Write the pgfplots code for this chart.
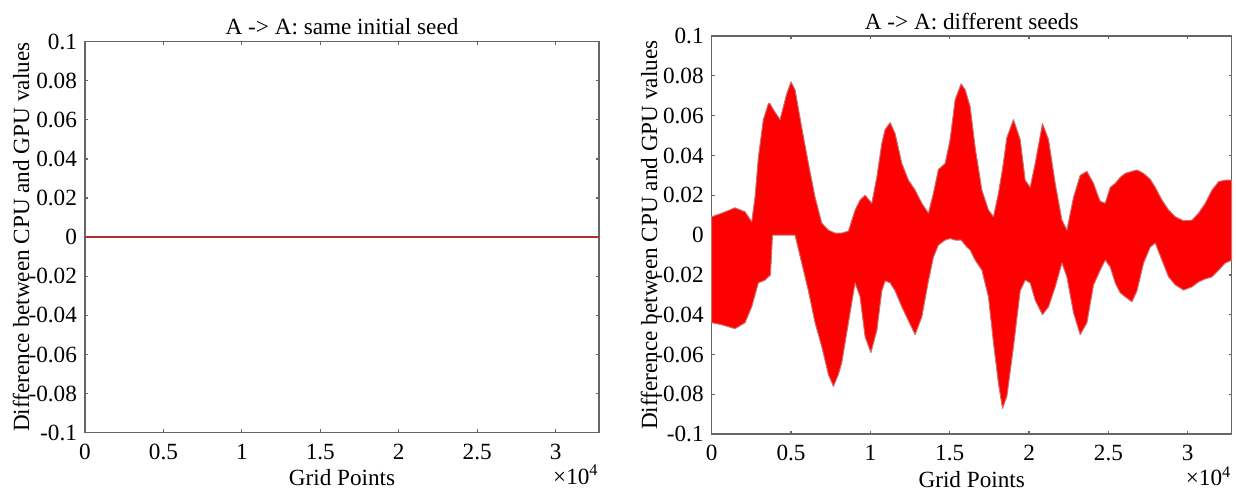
\documentclass[border=0pt]{standalone}
\usepackage{fontspec}
\setmainfont{Liberation Serif}
\usepackage{pgfplots}
\pgfplotsset{compat=1.18}
\usepackage{pgfplotstable}

\newcommand\ff{\fontsize{11.6}{13.9}\selectfont}
\definecolor{lineRed}{RGB}{185,45,45}
\definecolor{edgePink}{RGB}{205,110,110}

\pgfplotsset{mystyle/.style={
  scale only axis,
  clip=false,
  xmin=0, xmax=32768, ymin=-0.1, ymax=0.1,
  xtick={0,5000,10000,15000,20000,25000,30000},
  xticklabels={0,0.5,1,1.5,2,2.5,3},
  ytick={-0.1,-0.08,-0.06,-0.04,-0.02,0,0.02,0.04,0.06,0.08,0.1},
  yticklabels={-0.1,-0.08,-0.06,-0.04,-0.02,0,0.02,0.04,0.06,0.08,0.1},
  scaled ticks=false,
  tick align=inside,
  major tick length=1.6pt,
  axis line style={black!60, line width=0.7pt},
  tick style={black!60, line width=0.6pt},
  every tick label/.append style={font=\ff},
  xticklabel style={yshift=-2pt},
  yticklabel style={xshift=-0.5pt},
  every axis title shift=0pt,
  title style={font=\ff, at={(axis description cs:0.5,1)}, anchor=center, yshift=7.4pt},
  xlabel={Grid Points},
  xlabel style={font=\ff, at={(axis description cs:0.5,0)}, anchor=center, yshift=-22.6pt},
  ylabel={Difference between CPU and GPU values},
  ylabel style={font=\ff, anchor=center},
}}

% band: upper envelope left to right, then lower envelope right to left
\pgfplotstableread{
x y
0 0.0092
628 0.011
1469 0.0137
2100 0.0117
2520 0.0067
2730 0.019
2940 0.039
3255 0.058
3571 0.066
3676 0.066
3886 0.063
4306 0.058
4727 0.071
5000 0.077
5252 0.073
5673 0.054
6093 0.036
6513 0.019
6934 0.006
7354 0.0025
7774 0.001
8196 0.001
8615 0.002
9035 0.0125
9350 0.0176
9665 0.020
10088 0.016
10403 0.029
10718 0.046
10927 0.053
11242 0.0565
11557 0.051
11979 0.036
12396 0.0276
12818 0.0226
13241 0.016
13657 0.011
13972 0.021
14287 0.033
14710 0.036
15025 0.048
15340 0.068
15718 0.076
15971 0.073
16286 0.0645
16601 0.044
17024 0.0226
17440 0.0126
17755 0.0092
18070 0.021
18323 0.033
18600 0.049
19016 0.058
19438 0.048
19754 0.0276
20069 0.024
20384 0.036
20844 0.056
21223 0.048
21645 0.026
22068 0.0075
22383 0.0025
22799 0.019
23221 0.030
23644 0.032
24060 0.026
24375 0.019
24482 0.017
24797 0.016
25113 0.024
25428 0.026
25743 0.029
26058 0.031
26481 0.032
26796 0.0327
27214 0.031
27635 0.028
27950 0.024
28373 0.0176
28789 0.0126
29211 0.0092
29734 0.0072
30264 0.0075
30680 0.011
31103 0.016
31525 0.0226
31941 0.0268
32364 0.0276
32768 0.0276
32768 -0.0126
32364 -0.014
31941 -0.0176
31525 -0.021
31103 -0.022
30680 -0.0235
30264 -0.026
29734 -0.0276
29211 -0.025
28789 -0.021
28373 -0.0126
27950 -0.004
27635 -0.006
27214 -0.014
26796 -0.028
26481 -0.0335
26058 -0.031
25743 -0.029
25428 -0.024
25113 -0.016
24797 -0.0126
24482 -0.0176
24060 -0.025
23644 -0.044
23221 -0.050
22799 -0.039
22383 -0.021
22068 -0.014
21645 -0.026
21223 -0.036
20844 -0.040
20384 -0.0327
20069 -0.024
19754 -0.0226
19438 -0.028
19016 -0.056
18600 -0.081
18323 -0.087
18070 -0.0745
17755 -0.054
17440 -0.031
17024 -0.0176
16601 -0.0126
16286 -0.0075
16078 -0.006
15718 -0.0025
15340 -0.0025
15025 -0.0017
14710 -0.0025
14287 -0.005
13972 -0.011
13657 -0.023
13241 -0.041
12818 -0.050
12396 -0.043
11979 -0.036
11557 -0.028
11242 -0.024
10927 -0.023
10718 -0.028
10403 -0.048
10030 -0.059
9665 -0.051
9350 -0.031
9035 -0.024
8615 -0.044
8196 -0.064
7984 -0.070
7669 -0.076
7354 -0.070
6934 -0.056
6513 -0.044
6093 -0.028
5673 -0.014
5252 0.0
3830 0.0
3700 -0.020
3360 -0.0226
2940 -0.024
2520 -0.036
2100 -0.044
1469 -0.047
628 -0.045
0 -0.044
}\bandtable

\begin{document}
\begin{tikzpicture}
\path[use as bounding box] (0,0) rectangle (618pt,246pt);

\begin{axis}[mystyle,
  at={(42.5pt,29.65pt)}, anchor=south west,
  width=257pt, height=195.5pt,
  title={A -> A: same initial seed},
  ylabel style={at={(axis description cs:-0.1245,0.5)}},
]
\addplot[lineRed, line width=0.7pt] coordinates {(0,0) (32768,0)};
\node[font=\ff, anchor=east, inner sep=0pt] at ([yshift=-21pt]rel axis cs:1,0) {×10\textsuperscript{4}};
\end{axis}

\begin{axis}[mystyle,
  at={(355.85pt,28.9pt)}, anchor=south west,
  width=260pt, height=199.1pt,
  title={A -> A: different seeds},
  ylabel style={at={(axis description cs:-0.1205,0.5)}},
]
\addplot[fill=red, draw=edgePink, line width=0.5pt, line join=round] table[x=x,y=y] {\bandtable} -- cycle;
\node[font=\ff, anchor=east, inner sep=0pt] at ([yshift=-21pt]rel axis cs:1,0) {×10\textsuperscript{4}};
\end{axis}
\end{tikzpicture}
\end{document}
